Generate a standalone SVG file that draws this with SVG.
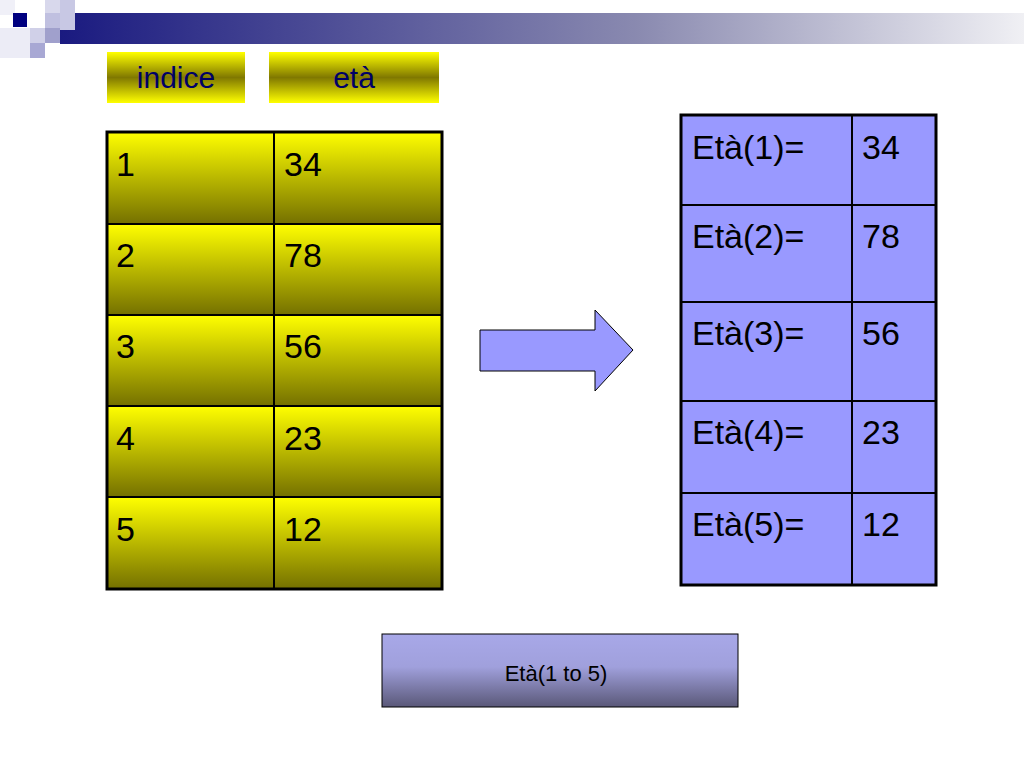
<svg xmlns="http://www.w3.org/2000/svg" width="1024" height="767" viewBox="0 0 1024 767">
<defs>
<linearGradient id="bar" x1="0" y1="0" x2="1" y2="0"><stop offset="0" stop-color="#1a1a80"/><stop offset="0.6" stop-color="#8a8ab0"/><stop offset="1" stop-color="#f0f0f4"/></linearGradient>
<linearGradient id="hdr" x1="0" y1="0" x2="0" y2="1"><stop offset="0" stop-color="#ffff00"/><stop offset="0.5" stop-color="#807800"/><stop offset="1" stop-color="#ffff00"/></linearGradient>
<linearGradient id="cell" x1="0" y1="0" x2="0" y2="1"><stop offset="0" stop-color="#ffff00"/><stop offset="1" stop-color="#747000"/></linearGradient>
<linearGradient id="btn" x1="0" y1="0" x2="0" y2="1"><stop offset="0" stop-color="#a8a8e8"/><stop offset="0.45" stop-color="#a0a0dc"/><stop offset="1" stop-color="#5a5878"/></linearGradient>
<style>
text{font-family:"Liberation Sans",Arial,sans-serif;}
.c{fill:url(#cell);stroke:#000;stroke-width:2}
.b{fill:#9999ff;stroke:#000;stroke-width:2}
.t{font-size:34px;fill:#000}
.h{font-size:30px;fill:#000066;text-anchor:middle}
</style>
</defs>
<g id="decor">
<rect x="60" y="13" width="964" height="31" fill="url(#bar)"/>
<rect x="0" y="0" width="15" height="15" fill="#f0f0f8"/>
<rect x="45" y="0" width="30" height="15" fill="#d8d8ec"/>
<rect x="60" y="0" width="15" height="30" fill="#c8c8e4"/>
<rect x="13" y="13" width="14" height="14" fill="#000080"/>
<rect x="45" y="13" width="15" height="15" fill="#c0c0e0"/>
<rect x="0" y="28" width="45" height="30" fill="#ececf6"/>
<rect x="30" y="28" width="15" height="15" fill="#d0d0e8"/>
<rect x="45" y="28" width="15" height="15" fill="#a0a0cc"/>
<rect x="30" y="43" width="15" height="15" fill="#a8a8d4"/>
</g>
<g id="hdr-indice"><rect x="107" y="52" width="138" height="51" fill="url(#hdr)"/><text class="h" x="176" y="88">indice</text></g>
<g id="hdr-eta"><rect x="269" y="52" width="170" height="51" fill="url(#hdr)"/><text class="h" x="354" y="88">età</text></g>
<g id="left-table">
<rect class="c" x="107" y="132" width="167" height="92"/><rect class="c" x="274" y="132" width="168" height="92"/>
<rect class="c" x="107" y="224" width="167" height="91"/><rect class="c" x="274" y="224" width="168" height="91"/>
<rect class="c" x="107" y="315" width="167" height="91"/><rect class="c" x="274" y="315" width="168" height="91"/>
<rect class="c" x="107" y="406" width="167" height="91"/><rect class="c" x="274" y="406" width="168" height="91"/>
<rect class="c" x="107" y="497" width="167" height="92"/><rect class="c" x="274" y="497" width="168" height="92"/>
<rect x="107" y="132" width="335" height="457" fill="none" stroke="#000" stroke-width="3"/>
<text class="t" x="116" y="176">1</text><text class="t" x="284" y="176">34</text>
<text class="t" x="116" y="267">2</text><text class="t" x="284" y="267">78</text>
<text class="t" x="116" y="358">3</text><text class="t" x="284" y="358">56</text>
<text class="t" x="116" y="450">4</text><text class="t" x="284" y="450">23</text>
<text class="t" x="116" y="541">5</text><text class="t" x="284" y="541">12</text>
</g>
<g id="connectors"><path d="M480 330 H595 V310 L633 350 L595 391 V371 H480 Z" fill="#9999ff" stroke="#000" stroke-width="1"/></g>
<g id="right-table">
<rect class="b" x="681" y="115" width="171" height="90"/><rect class="b" x="852" y="115" width="84" height="90"/>
<rect class="b" x="681" y="205" width="171" height="97"/><rect class="b" x="852" y="205" width="84" height="97"/>
<rect class="b" x="681" y="302" width="171" height="99"/><rect class="b" x="852" y="302" width="84" height="99"/>
<rect class="b" x="681" y="401" width="171" height="92"/><rect class="b" x="852" y="401" width="84" height="92"/>
<rect class="b" x="681" y="493" width="171" height="92"/><rect class="b" x="852" y="493" width="84" height="92"/>
<rect x="681" y="115" width="255" height="470" fill="none" stroke="#000" stroke-width="3"/>
<text class="t" x="692" y="159">Età(1)=</text><text class="t" x="862" y="159">34</text>
<text class="t" x="692" y="248">Età(2)=</text><text class="t" x="862" y="248">78</text>
<text class="t" x="692" y="345">Età(3)=</text><text class="t" x="862" y="345">56</text>
<text class="t" x="692" y="444">Età(4)=</text><text class="t" x="862" y="444">23</text>
<text class="t" x="692" y="536">Età(5)=</text><text class="t" x="862" y="536">12</text>
</g>
<g id="range"><rect x="382" y="634" width="356" height="73" fill="url(#btn)" stroke="#000" stroke-width="1"/><text x="556" y="681" font-size="22" text-anchor="middle" fill="#000">Età(1 to 5)</text></g>
</svg>
